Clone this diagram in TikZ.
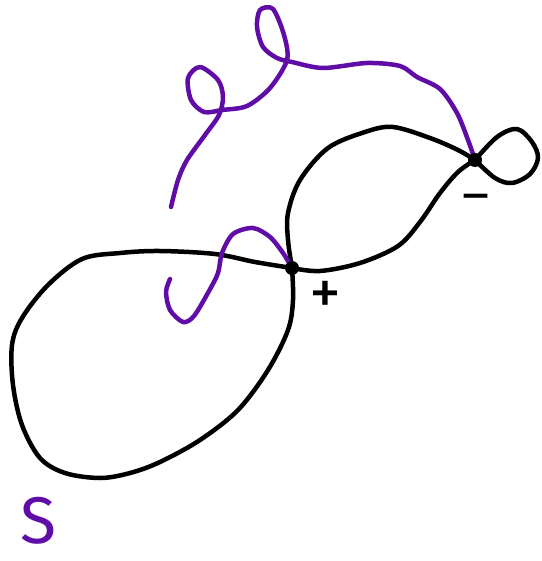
\documentclass[tikz,border=0pt]{standalone}
\usepackage{fontspec}
\setmainfont{Fira Sans}
\definecolor{inkpurple}{RGB}{96,12,166}
\begin{document}
\begin{tikzpicture}[x=1pt,y=-1pt,
  blackline/.style={line width=4.5pt,line cap=round,line join=round,black},
  purpleline/.style={line width=4.5pt,line cap=round,line join=round,inkpurple},
  dot/.style={circle,fill=black,inner sep=0pt,minimum size=14pt}]
\useasboundingbox (0,0) rectangle (541,561);
\coordinate (p) at (292,268);
\coordinate (m) at (475,160);
% big left loop
\draw[blackline] plot[smooth,tension=0.55] coordinates {(p) (255,262) (215,254) (160,251) (120,253) (82,259) (48,285) (22,318) (12,345) (13,385) (22,425) (40,458) (65,473) (100,478) (130,473) (160,462) (200,440) (238,410) (268,370) (288,330) (293,300) (p)};
% upper loop, top arc
\draw[blackline] plot[smooth,tension=0.55] coordinates {(p) (288,240) (288,213) (300,180) (328,148) (365,132) (393,127) (430,138) (458,150) (m)};
% upper loop, lower arc
\draw[blackline] plot[smooth,tension=0.55] coordinates {(p) (320,271) (360,263) (398,246) (420,222) (440,193) (458,172) (m)};
% small right loop
\draw[blackline] plot[smooth,tension=0.55] coordinates {(m) (497,137) (517,129) (532,142) (538,158) (530,174) (512,183) (495,178) (m)};
% long purple curve
\draw[purpleline] plot[smooth,tension=0.5] coordinates {(171,207) (178,180) (187,160) (205,135) (219,115) (223,97) (218,80) (200,67) (188,78) (191,100) (204,112) (222,110) (247,106) (270,88) (287,60) (284,35) (273,9) (260,10) (257,27) (263,47) (277,58) (292,62) (323,68) (367,63) (400,66) (417,77) (440,89) (457,113) (468,140) (m)};
% short purple curve
\draw[purpleline] plot[smooth,tension=0.5] coordinates {(170,279) (166,292) (170,310) (183,322) (194,316) (209,291) (218,273) (222,253) (233,234) (253,228) (270,237) (283,253) (p)};
% junction dots
\node[dot] (pdot) at (p) {};
\node[dot] (mdot) at (m) {};
% labels
\node[inner sep=0pt,font=\fontsize{64}{64}\selectfont] (plus) at (325,298) {+};
\node[inner sep=0pt,font=\fontsize{52}{52}\selectfont] (minus) at (476,203) {–};
\node[inner sep=0pt,text=inkpurple,font=\fontsize{66}{66}\selectfont] (s) at (38,521) {S};
\end{tikzpicture}
\end{document}
